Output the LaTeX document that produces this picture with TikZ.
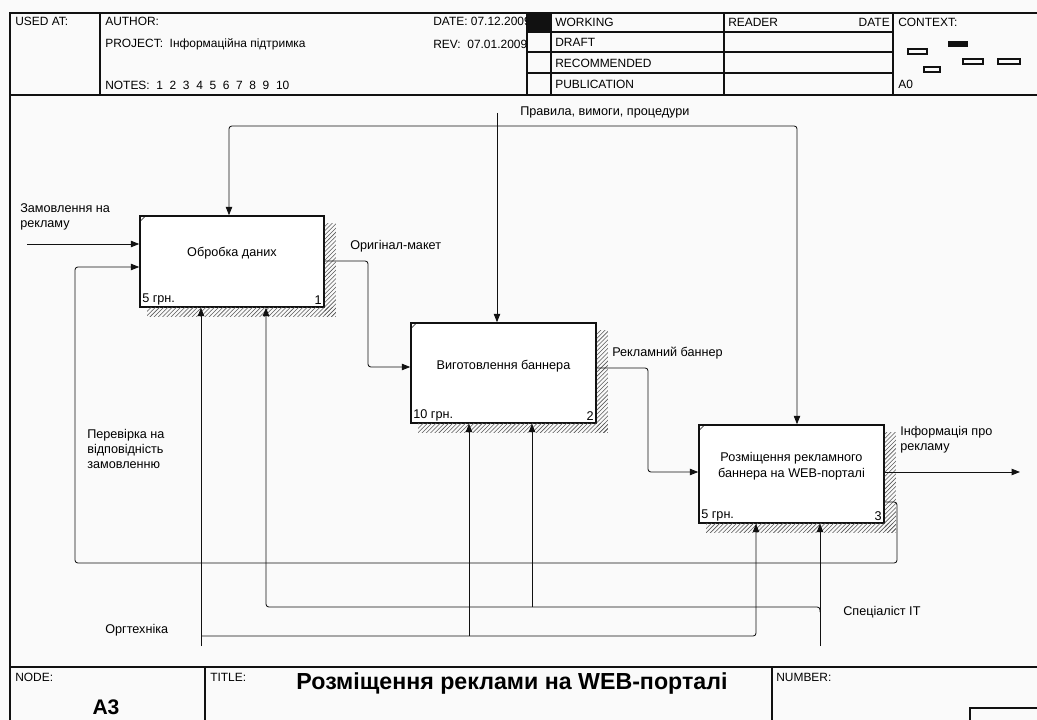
\documentclass[tikz,border=0pt]{standalone}
\usepackage{fontspec}
\setmainfont{Liberation Sans}
\usetikzlibrary{arrows.meta,positioning,patterns,calc}
\definecolor{ink}{HTML}{111111}
\definecolor{hatchgray}{HTML}{5A5A5A}
\definecolor{paper}{HTML}{FAFAFA}

\begin{document}
\begin{tikzpicture}[x=0.025cm,y=-0.025cm,
    frame/.style={ink,line width=0.8pt},
    fnbox/.style={draw=ink,line width=1.1pt,fill=white,inner sep=0pt},
    boxtxt/.style={font=\fontsize{9}{11}\selectfont,align=center,inner sep=0pt},
    flow/.style={ink,line width=0.6pt,rounded corners=2pt,-{Triangle[length=6pt,width=4.6pt]}},
    shade/.style={pattern=north east lines,pattern color=hatchgray},
    lbl/.style={font=\fontsize{9}{10.7}\selectfont,anchor=north west,inner sep=0pt,align=left},
    hdr/.style={font=\fontsize{8.5}{10}\selectfont,anchor=west,inner sep=0pt},
    cost/.style={font=\fontsize{9}{10}\selectfont,anchor=south west,inner sep=2pt},
    num/.style={font=\fontsize{9}{10}\selectfont,anchor=south east,inner sep=2pt},
    ctxbox/.style={draw=ink,line width=0.8pt}]
  \fill[paper] (0,0) rectangle (1037,720);
  \useasboundingbox (0,0) rectangle (1037,720);

  % header block
  \draw[frame] (10,720) -- (10,13) -- (1037,13);
  \draw[frame] (10,95) -- (1037,95);
  \draw[frame] (100,13) -- (100,95);
  \draw[frame] (527,13) -- (527,95);
  \draw[frame] (551,13) -- (551,95);
  \draw[frame] (724,13) -- (724,95);
  \draw[frame] (893,13) -- (893,95);
  \foreach \yy in {32,52,73}
    \draw[frame] (527,\yy) -- (893,\yy);
  \node[hdr] (usedat) at (15,21) {USED AT:};
  \node[hdr] (author) at (105,21) {AUTHOR:};
  \node[hdr] (project) at (105,44) {PROJECT:\ \ Інформаційна підтримка};
  \node[hdr] (notes) at (105,85) {NOTES:\ \ 1\ \ 2\ \ 3\ \ 4\ \ 5\ \ 6\ \ 7\ \ 8\ \ 9\ \ 10};
  \node[hdr] (date) at (433,21) {DATE: 07.12.2009};
  \node[hdr] (rev) at (433,44) {REV:\ \ 07.01.2009};
  \fill[ink] (527,13) rectangle (551,32);
  \node[hdr] (working) at (555,22) {WORKING};
  \node[hdr] (draft) at (555,42) {DRAFT};
  \node[hdr] (recom) at (555,63) {RECOMMENDED};
  \node[hdr] (public) at (555,84) {PUBLICATION};
  \node[hdr] (reader) at (728,22) {READER};
  \node[hdr,anchor=east] (rdate) at (890,22) {DATE};
  \node[hdr] (context) at (898,22) {CONTEXT:};
  \node[hdr] (ctxnode) at (898,84) {A0};
  \draw[ctxbox] (908,49) rectangle (927,54);
  \fill[ink] (948,41) rectangle (968,47);
  \draw[ctxbox] (963,59) rectangle (983,64);
  \draw[ctxbox] (998,59) rectangle (1020,64);
  \draw[ctxbox] (924,67) rectangle (940,72);

  % footer block
  \draw[frame] (10,667) -- (1037,667);
  \draw[frame] (205,667) -- (205,720);
  \draw[frame] (772,667) -- (772,720);
  \draw[frame] (970,720) -- (970,708) -- (1037,708);
  \node[hdr] (nodelbl) at (15,677) {NODE:};
  \node[hdr] (titlelbl) at (210,677) {TITLE:};
  \node[hdr] (numlbl) at (776,677) {NUMBER:};
  \node[font=\bfseries\fontsize{15}{17}\selectfont,inner sep=0pt] (nodeid) at (106,707) {A3};
  \node[font=\bfseries\fontsize{16.5}{19}\selectfont,inner sep=0pt] (title) at (512,683)
    {Розміщення реклами на WEB-порталі};

  % activity boxes
  \node[fnbox,minimum width=4.6cm,minimum height=2.275cm] (b1) at (232,261.5) {};
  \node[fnbox,minimum width=4.625cm,minimum height=2.5cm] (b2) at (503.5,373) {};
  \node[fnbox,minimum width=4.625cm,minimum height=2.45cm] (b3) at (791.5,474) {};
  \foreach \b/\n/\c in {b1/1/5 грн., b2/2/10 грн., b3/3/5 грн.} {
    \fill[shade] ($(\b.north east)+(0,8)$) rectangle ($(\b.south east)+(11,9)$);
    \fill[shade] ($(\b.south west)+(8,0)$) rectangle ($(\b.south east)+(11,9)$);
    \draw[ink,line width=0.4pt] ($(\b.north west)+(1,6)$) -- ($(\b.north west)+(6,1)$);
    \node[cost] (\b cost) at (\b.south west) {\c};
    \node[num] (\b num) at (\b.south east) {\n};
  }
  \node[boxtxt] (t1) at ($(b1.center)+(0,-8)$) {Обробка даних};
  \node[boxtxt] (t2) at ($(b2.center)+(0,-7)$) {Виготовлення баннера};
  \node[boxtxt] (t3) at ($(b3.center)+(0,-8)$) {Розміщення рекламного\\баннера на WEB-порталі};

  % input
  \coordinate (inA) at (27,244);
  \draw[flow] (inA) -- (inA -| b1.west);
  \node[lbl] (lorder) at (20,203) {Замовлення на\\рекламу};

  % control
  \coordinate (ctlA) at (497,113);
  \coordinate (ctlJ) at (497,126);
  \coordinate (ctlL) at (229,126);
  \coordinate (ctlR) at (797,126);
  \draw[flow] (ctlA) -- (ctlA |- b2.north);
  \draw[flow] (ctlJ) -- (ctlL) -- (ctlL |- b1.north);
  \draw[flow] (ctlJ) -- (ctlR) -- (ctlR |- b3.north);
  \node[lbl,anchor=west] (lrules) at (520,112) {Правила, вимоги, процедури};

  % outputs
  \coordinate (o1) at (368,261);
  \coordinate (o1b) at (368,367);
  \draw[flow] (b1.east |- o1) -- (o1) -- (o1b) -- (o1b -| b2.west);
  \node[lbl,anchor=west] (lmaket) at (350,246) {Оригінал-макет};
  \coordinate (o2) at (648,368);
  \coordinate (o2b) at (648,472);
  \draw[flow] (b2.east |- o2) -- (o2) -- (o2b) -- (o2b -| b3.west);
  \node[lbl,anchor=west] (lbanner) at (612,353) {Рекламний баннер};
  \coordinate (o3) at (1020,472);
  \draw[flow] (b3.east |- o3) -- (o3);
  \node[lbl] (linfo) at (900,426) {Інформація про\\рекламу};

  % feedback
  \coordinate (fbA) at (897,502);
  \coordinate (fbB) at (897,563);
  \coordinate (fbC) at (75,563);
  \coordinate (fbD) at (75,267);
  \draw[flow] (b3.east |- fbA) -- (fbA) -- (fbB) -- (fbC) -- (fbD) -- (fbD -| b1.west);
  \node[lbl] (lcheck) at (87,429) {Перевірка на\\відповідність\\замовленню};

  % mechanisms
  \coordinate (mA) at (201,646);
  \coordinate (mB) at (201,636);
  \coordinate (mC) at (469,636);
  \coordinate (mD) at (756,636);
  \draw[flow] (mA) -- (mA |- b1.south);
  \draw[flow] (mB) -- (mD) -- (mD |- b3.south);
  \draw[flow] (mC) -- (mC |- b2.south);
  \node[lbl,anchor=west] (ltech) at (105,630) {Оргтехніка};
  \coordinate (sA) at (820,646);
  \coordinate (sB) at (820,612);
  \coordinate (sC) at (532,607);
  \coordinate (sD) at (266,607);
  \draw[flow] (sA) -- (sA |- b3.south);
  \draw[flow] (sB) -- (sB |- sC) -- (sD) -- (sD |- b1.south);
  \draw[flow] (sC) -- (sC |- b2.south);
  \node[lbl,anchor=west] (lspec) at (843,612) {Спеціаліст ІТ};
\end{tikzpicture}
\end{document}
